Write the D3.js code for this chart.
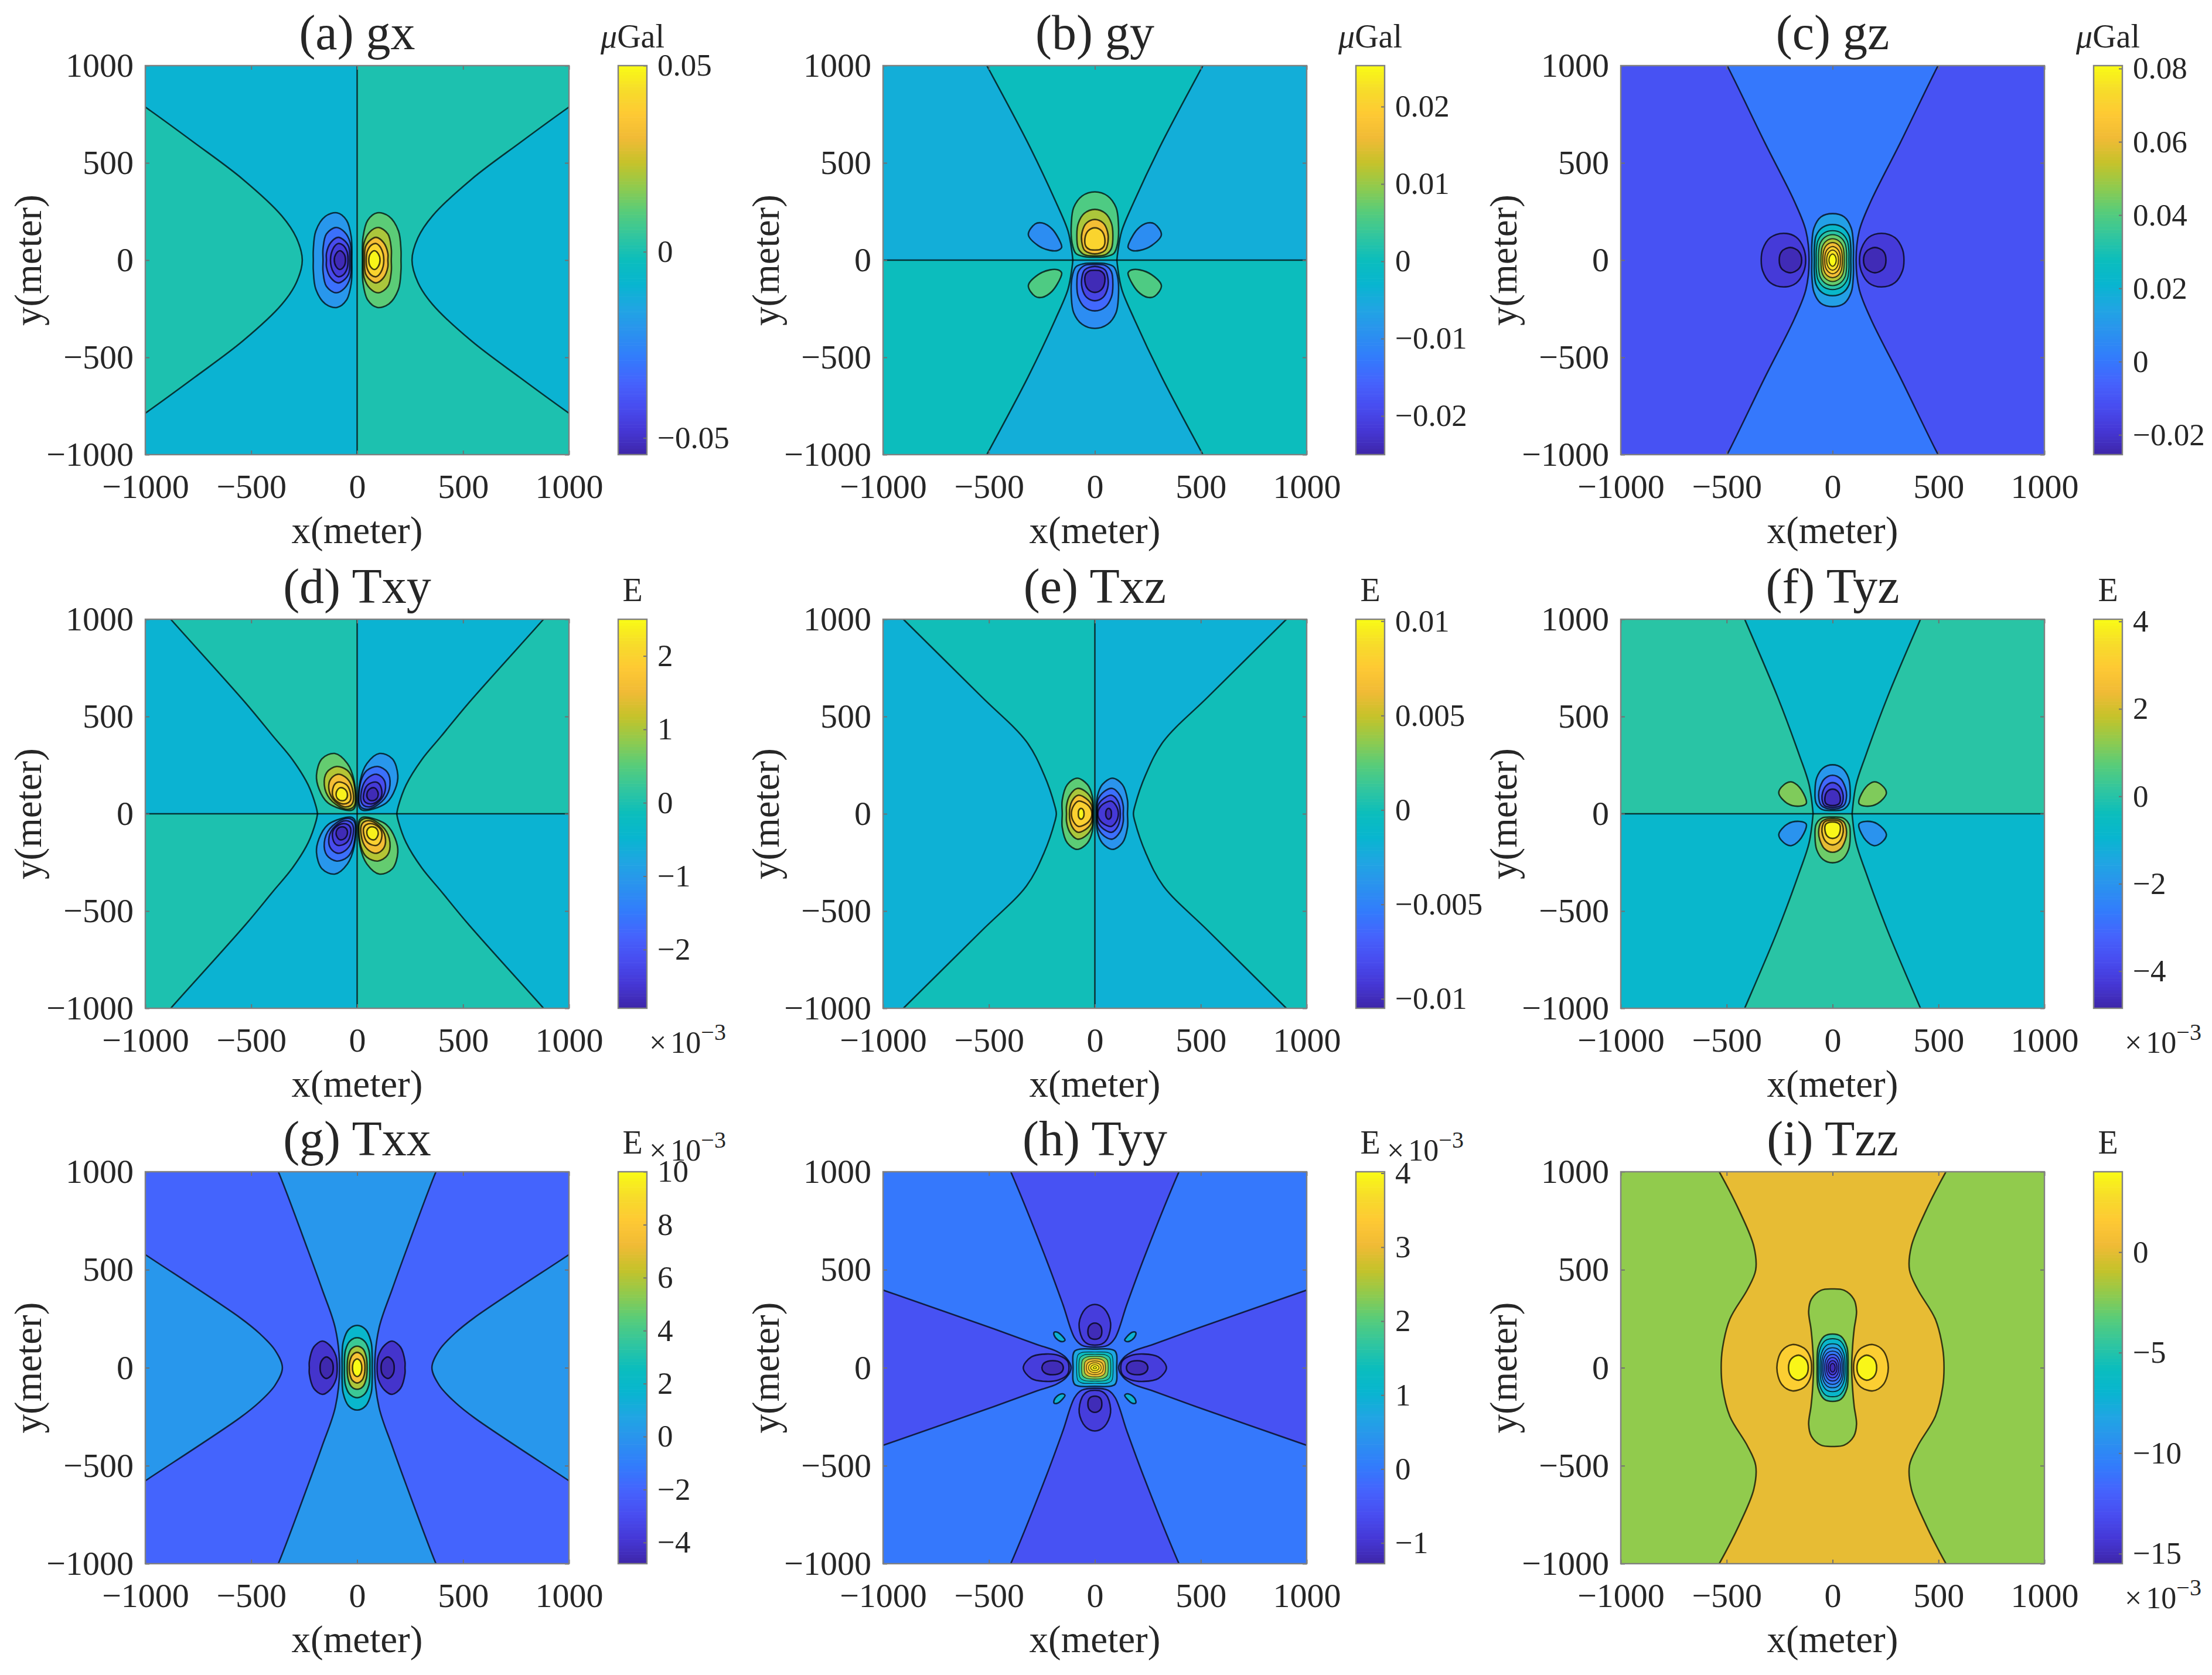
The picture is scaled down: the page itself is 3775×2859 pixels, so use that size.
<!DOCTYPE html>
<html lang="en">

<head>
    <meta charset="UTF-8">
    <title>Gravity field components</title>
    <script src="https://d3js.org/d3.v7.min.js"></script>
    <style>
        body { margin: 0; background: #fff; }
        text { font-family: "Liberation Serif", "Times New Roman", serif; fill: #262626; }
        .frame { fill: none; stroke: #808080; stroke-width: 2.4px; }
        .tick line { stroke: #707070; stroke-width: 2px; }
        .domain { display: none; }
    </style>
</head>

<body>
    <div id="container"></div>
    <script>
        /*------------------- chart values --------------------*/
        const titles = ["(a) gx", "(b) gy", "(c) gz", "(d) Txy", "(e) Txz", "(f) Tyz", "(g) Txx", "(h) Tyy", "(i) Tzz"];
        const units = ["Gal", "Gal", "Gal", "E", "E", "E", "E", "E", "E"];
        const axisTicks = [-1000, -500, 0, 500, 1000];

        // colour axis limits and tick marks of each panel
        const cbarDomains = [[-0.0545, 0.05], [-0.025, 0.0253], [-0.0254, 0.0808], [-2.8, 2.5], [-0.0105, 0.0101],
            [-4.85, 4.05], [-4.8, 10], [-1.28, 4.02], [-15.5, 4]];
        const cbarTicks = [[-0.05, 0, 0.05], [-0.02, -0.01, 0, 0.01, 0.02], [-0.02, 0, 0.02, 0.04, 0.06, 0.08],
            [-2, -1, 0, 1, 2], [-0.01, -0.005, 0, 0.005, 0.01], [-4, -2, 0, 2, 4],
            [-4, -2, 0, 2, 4, 6, 8, 10], [-1, 0, 1, 2, 3, 4], [-15, -10, -5, 0]];
        // where the x10^-3 note sits: none, under the bar, or above it
        const exponentPlace = ["", "", "", "below", "", "below", "above", "above", "below"];

        // matlab parula, every 4th row
        const parulaRows = [[0.2422, 0.1504, 0.6603], [0.2706, 0.2147, 0.8364], [0.2813, 0.3006, 0.9414], [0.2699, 0.3892, 0.9906],
            [0.1963, 0.4847, 0.9892], [0.1687, 0.5703, 0.9359], [0.1248, 0.6459, 0.8883], [0.0297, 0.7082, 0.8163],
            [0.0433, 0.7411, 0.7394], [0.1938, 0.7758, 0.6251], [0.3406, 0.8008, 0.4789], [0.5616, 0.7942, 0.3045],
            [0.7738, 0.7598, 0.1646], [0.9393, 0.7288, 0.21], [0.9952, 0.7893, 0.2028], [0.9676, 0.8639, 0.1643], [0.9769, 0.9839, 0.0805]];

        /*------------- contour outlines, in metres ------------*/
        // (a) gx
        const gxFar = [[-1100, 862], [-1000, 787], [-769, 604], [-540, 416], [-356, 228], [-287, 115], [-259, 0]];
        const gxLobes = [
            [[25, 0], [28, 120], [50, 205], [95, 243], [150, 225], [195, 150], [207, 50], [207, 0]],
            [[28, 0], [33, 90], [60, 145], [100, 168], [145, 135], [161, 60], [161, 0]],
            [[35, 0], [40, 70], [65, 105], [90, 117], [125, 90], [145, 35], [145, 0]],
            [[43, 0], [48, 45], [68, 78], [90, 85], [112, 62], [126, 0]],
            [[55, 0], [62, 32], [82, 48], [100, 32], [108, 0]]
        ];
        const gxLevels = { left: -0.0096, right: 0.0009, neg: [-0.02, -0.0315, -0.042, -0.0472, -0.0524], pos: [0.0113, 0.0207, 0.0322, 0.0406, 0.049] };

        // (b) gy
        const gyWedge = [[-560, 1100], [-510, 1000], [-316, 602], [-185, 301], [-127, 150], [-108, 40], [-104, 0]];
        const gyLobes = [
            [[0, 351], [60, 330], [100, 270], [111, 190], [108, 90], [90, 35], [50, 18], [0, 15]],
            [[0, 261], [50, 240], [78, 190], [85, 130], [78, 60], [50, 28], [0, 22]],
            [[0, 209], [40, 190], [60, 145], [62, 95], [48, 50], [0, 32]],
            [[0, 166], [32, 150], [47, 110], [42, 70], [25, 55], [0, 52]]
        ];
        const gySide = [[314, 131], [282, 186], [249, 191], [203, 161], [162, 90], [157, 65], [175, 50], [212, 50], [268, 75]];
        const gyLevels = { blue: -0.0044, teal: 0.0002, pos: [0.0057, 0.0112, 0.0167, 0.0208], neg: [-0.0099, -0.0149, -0.02, -0.024] };

        // (c) gz
        const gzNeck = [[-550, 1100], [-498, 1000], [-319, 602], [-180, 301], [-126, 151], [-111, 0]];
        const gzCentre = [
            [[0, 239], [55, 222], [88, 165], [98, 80], [98, 0]],
            [[0, 183], [48, 168], [78, 125], [86, 60], [86, 0]],
            [[0, 151], [42, 138], [69, 100], [77, 45], [77, 0]],
            [[0, 131], [36, 118], [59, 85], [66, 35], [66, 0]],
            [[0, 110], [30, 98], [49, 68], [55, 0]],
            [[0, 90], [25, 80], [41, 52], [46, 0]],
            [[0, 70], [20, 60], [33, 38], [37, 0]],
            [[0, 52], [15, 44], [25, 25], [28, 0]],
            [[0, 32], [9, 26], [15, 14], [17, 0]]
        ];
        const gzSides = [
            [[127, 0], [137, 62], [172, 118], [231, 138], [295, 115], [330, 55], [337, 0]],
            [[146, 0], [160, 45], [200, 65], [240, 45], [252, 0]]
        ];
        const gzLevels = { far: -0.0105, neck: 0, centre: [0.0128, 0.0235, 0.033, 0.0426, 0.0521, 0.0627, 0.0702, 0.0755, 0.0808], side: [-0.018, -0.0233] };

        // (d) Txy
        const txyCorner = [[-960, 1100], [-880, 1000], [-526, 569], [-397, 399], [-305, 278], [-231, 148], [-194, 37], [-187, 0]];
        const txyLobes = [
            [[9, 37], [14, 168], [46, 258], [106, 310], [166, 283], [192, 198], [180, 128], [139, 57], [55, 19], [23, 19]],
            [[11, 47], [18, 168], [46, 223], [97, 243], [143, 213], [155, 148], [129, 77], [65, 27], [28, 27]],
            [[18, 67], [28, 148], [55, 188], [92, 203], [125, 178], [134, 133], [115, 77], [65, 37], [32, 42]],
            [[30, 77], [42, 138], [69, 160], [97, 160], [115, 128], [111, 82], [74, 52], [42, 57]],
            [[46, 102], [60, 128], [83, 133], [99, 107], [92, 77], [69, 67], [51, 77]]
        ];
        const txyLevels = { blue: -0.52, teal: 0.01, neg: [-1.05, -1.63, -2.16, -2.43, -2.7], pos: [0.59, 1.07, 1.6, 1.97, 2.39] };

        // (e) Txz
        const txzFar = [[-1100, 1215], [-904, 1000], [-535, 602], [-323, 371], [-240, 201], [-189, 40], [-182, 0]];
        const txzLobes = [
            [[-8, 0], [-12, 90], [-35, 150], [-83, 183], [-130, 150], [-154, 70], [-154, 0]],
            [[-9, 0], [-14, 70], [-45, 115], [-83, 130], [-118, 95], [-134, 40], [-134, 0]],
            [[-11, 0], [-18, 50], [-50, 85], [-80, 95], [-108, 65], [-120, 0]],
            [[-14, 0], [-25, 35], [-55, 60], [-78, 65], [-100, 42], [-111, 0]],
            [[-51, 0], [-55, 20], [-65, 28], [-76, 18], [-78, 0]]
        ];
        const txzLevels = { blue: -0.0018, teal: 0, pos: [0.0025, 0.0043, 0.0068, 0.008, 0.0099], neg: [-0.0039, -0.006, -0.008, -0.0091, -0.0101] };

        // (f) Tyz
        const tyzWedge = [[-455, 1100], [-415, 1000], [-260, 602], [-157, 301], [-111, 150], [-92, 0]];
        const tyzLobes = [
            [[0, 252], [45, 235], [75, 185], [83, 120], [78, 55], [50, 22], [0, 17]],
            [[0, 198], [38, 180], [60, 135], [66, 95], [55, 45], [30, 28], [0, 25]],
            [[0, 160], [30, 145], [47, 110], [50, 75], [38, 42], [0, 33]],
            [[0, 127], [25, 115], [36, 85], [33, 55], [20, 45], [0, 42]]
        ];
        const tyzSide = [[254, 107], [231, 148], [196, 164], [157, 137], [125, 72], [125, 52], [157, 39], [212, 52]];
        const tyzLevels = { teal: 0.045, blue: -0.845, neg: [-1.91, -3.07, -3.96, -4.58], pos: [0.93, 2.27, 3.16, 3.96], sideUp: 1.11, sideDown: -2 };

        // (g) Txx
        const txxNeck = [[-415, 1100], [-372, 1000], [-233, 602], [-166, 402], [-103, 201], [-83, 0]];
        const txxFar = [[-1100, 650], [-1000, 577], [-554, 256], [-462, 176], [-388, 90], [-353, 0]];
        const txxCentre = [
            [[0, 216], [40, 195], [66, 130], [71, 60], [71, 0]],
            [[0, 153], [35, 135], [55, 90], [60, 40], [60, 0]],
            [[0, 110], [28, 95], [43, 55], [47, 0]],
            [[0, 78], [22, 65], [34, 35], [37, 0]],
            [[0, 45], [14, 35], [21, 15], [22, 0]]
        ];
        const txxSides = [
            [[94, 0], [100, 60], [130, 115], [165, 136], [205, 105], [226, 30], [226, 0]],
            [[113, 0], [120, 35], [145, 55], [168, 35], [175, 0]]
        ];
        const txxLevels = { far: -2, neck: 0.08, centre: [1.86, 3.78, 5.86, 7.78, 10], side: [-4.06, -4.65] };

        // (h) Tyy
        const tyyTop = [[-440, 1100], [-397, 1000], [-230, 554], [-151, 323], [-96, 153], [-62, 115], [0, 105]];
        const tyySide = [[1100, 435], [1000, 396], [476, 198], [273, 118], [181, 84], [135, 50], [112, 0]];
        const tyyCentre = [
            [[0, 95], [70, 95], [95, 85], [103, 65], [103, 0]],
            [[0, 80], [60, 78], [80, 65], [86, 0]],
            [[0, 68], [50, 65], [70, 50], [75, 0]],
            [[0, 58], [40, 54], [58, 40], [63, 0]],
            [[0, 47], [32, 42], [46, 30], [50, 0]],
            [[0, 35], [25, 30], [36, 20], [40, 0]],
            [[0, 25], [18, 21], [27, 12], [30, 0]],
            [[0, 15], [12, 12], [20, 0]],
            [[0, 6], [5, 4], [8, 0]]
        ];
        const tyyVertical = [
            [[0, 323], [45, 300], [74, 230], [60, 150], [35, 122], [0, 115]],
            [[0, 228], [25, 215], [33, 185], [25, 155], [0, 145]]
        ];
        const tyyHorizontal = [
            [[122, 0], [130, 35], [170, 62], [230, 70], [300, 55], [338, 0]],
            [[149, 0], [160, 25], [200, 36], [238, 25], [250, 0]]
        ];
        const tyyDiagonal = [[192, 181], [176, 181], [151, 158], [141, 141], [153, 133], [176, 143], [193, 168]];
        const tyyLevels = { back: -0.01, arm: -0.54, centre: [0.73, 1.26, 1.69, 2.32, 2.96, 3.38, 3.65, 3.86, 4.02], lobe: [-0.86, -1.17], diagonal: 0.95 };

        // (i) Tzz
        const tzzNeck = [[-590, 1100], [-535, 1000], [-440, 800], [-372, 620], [-363, 499], [-402, 399], [-485, 248], [-520, 97], [-526, 0]];
        const tzzCentre = [
            [[0, 402], [55, 395], [100, 350], [113, 288], [102, 198], [95, 117], [90, 0]],
            [[0, 172], [40, 160], [68, 105], [73, 40], [73, 0]],
            [[0, 148], [35, 138], [61, 90], [67, 0]],
            [[0, 122], [30, 113], [53, 72], [59, 0]],
            [[0, 102], [26, 94], [46, 60], [52, 0]],
            [[0, 85], [22, 78], [40, 50], [45, 0]],
            [[0, 68], [18, 62], [32, 40], [37, 0]],
            [[0, 52], [14, 47], [25, 30], [29, 0]],
            [[0, 36], [10, 32], [18, 20], [21, 0]],
            [[0, 22], [6, 19], [10, 12], [12, 0]]
        ];
        const tzzSides = [
            [[99, 0], [108, 60], [135, 100], [190, 118], [240, 85], [263, 0]],
            [[115, 0], [125, 40], [160, 64], [195, 45], [208, 0]]
        ];
        const tzzLevels = { far: -2.05, neck: 0.1, centre: [-2.05, -4.77, -6.73, -8.29, -9.65, -10.82, -11.99, -13.16, -14.14, -15.11], side: [1.86, 3.8] };

        /*------------------- outline helpers ------------------*/
        const flipX = pts => pts.map(p => p && [-p[0], p[1]]);
        const flipY = pts => pts.map(p => p && [p[0], -p[1]]);
        // half outline that starts and ends on an axis -> whole outline
        const closeY = h => h.concat(flipY(h.slice(1, -1)).reverse());
        const closeX = h => h.concat(flipX(h.slice(1, -1)).reverse());
        // quarter outline (0,y) ... (x,0) -> whole outline
        const oval = q => closeX(q.concat(flipY(q.slice(0, -1)).reverse()));
        // far curve that runs off the plot: mirrored, closes outside the clip
        const openY = h => h.concat(flipY(h.slice(0, -1)).reverse());
        const openX = h => h.concat(flipX(h.slice(0, -1)).reverse());
        const wedge = h => h.concat([null], flipX(h).reverse());
        const neck = h => { const left = openY(h); return left.concat([null], flipX(left).reverse()); };
        // null = sharp corner; corners are filled across but get no contour line
        const box = (x0, y0, x1, y1) => [[x0, y0], null, [x1, y0], null, [x1, y1], null, [x0, y1]];
        const shut = (v, pts, width) => ({ v, pts, closed: true, width });
        const open = (v, pts) => ({ v, pts, closed: false });
        const rule = pts => ({ v: null, pts, closed: false });

        const B = 1100; // past the axes, gets clipped
        const leftBox = box(-B, -B, 0, B), rightBox = box(0, -B, B, B), upBox = box(-B, 0, B, B), downBox = box(-B, -B, B, 0);
        const allBox = box(-B, -B, B, B);
        const ruleX = rule([[0, -B], [0, B]]), ruleY = rule([[-B, 0], [B, 0]]);
        const txyFill = txyCorner.concat([null, [-B, 0], null, [-B, B]]);

        /*--------------- regions of each panel ----------------*/
        const regions = [
            [
                open(gxLevels.left, leftBox), open(gxLevels.right, rightBox), ruleX,
                open(gxLevels.right, openY(gxFar)), open(gxLevels.left, flipX(openY(gxFar))),
                ...gxLobes.map((h, i) => shut(gxLevels.pos[i], closeY(h))),
                ...gxLobes.map((h, i) => shut(gxLevels.neg[i], flipX(closeY(h))))
            ],
            [
                open(gyLevels.blue, upBox), open(gyLevels.teal, downBox), ruleY,
                open(gyLevels.teal, wedge(gyWedge)), open(gyLevels.blue, flipY(wedge(gyWedge))),
                ...gyLobes.map((h, i) => shut(gyLevels.pos[i], closeX(h))),
                ...gyLobes.map((h, i) => shut(gyLevels.neg[i], flipY(closeX(h)))),
                shut(gyLevels.neg[0], gySide), shut(gyLevels.neg[0], flipX(gySide)),
                shut(gyLevels.pos[0], flipY(gySide)), shut(gyLevels.pos[0], flipX(flipY(gySide)))
            ],
            [
                open(gzLevels.far, allBox), open(gzLevels.neck, neck(gzNeck)),
                ...gzCentre.map((q, i) => shut(gzLevels.centre[i], oval(q), i > 1 ? 2 : undefined)),
                ...gzSides.map((h, i) => shut(gzLevels.side[i], closeY(h))),
                ...gzSides.map((h, i) => shut(gzLevels.side[i], flipX(closeY(h))))
            ],
            [
                open(txyLevels.teal, box(-B, 0, 0, B)), open(txyLevels.blue, box(0, 0, B, B)),
                open(txyLevels.blue, box(-B, -B, 0, 0)), open(txyLevels.teal, box(0, -B, B, 0)), ruleX, ruleY,
                open(txyLevels.blue, txyFill), open(txyLevels.teal, flipX(txyFill)),
                open(txyLevels.teal, flipY(txyFill)), open(txyLevels.blue, flipX(flipY(txyFill))),
                ...txyLobes.map((p, i) => shut(txyLevels.neg[i], p)),
                ...txyLobes.map((p, i) => shut(txyLevels.pos[i], flipX(p))),
                ...txyLobes.map((p, i) => shut(txyLevels.pos[i], flipY(p))),
                ...txyLobes.map((p, i) => shut(txyLevels.neg[i], flipX(flipY(p))))
            ],
            [
                open(txzLevels.teal, leftBox), open(txzLevels.blue, rightBox), ruleX,
                open(txzLevels.blue, openY(txzFar)), open(txzLevels.teal, flipX(openY(txzFar))),
                ...txzLobes.map((h, i) => shut(txzLevels.pos[i], closeY(h))),
                ...txzLobes.map((h, i) => shut(txzLevels.neg[i], flipX(closeY(h))))
            ],
            [
                open(tyzLevels.teal, upBox), open(tyzLevels.blue, downBox), ruleY,
                open(tyzLevels.blue, wedge(tyzWedge)), open(tyzLevels.teal, flipY(wedge(tyzWedge))),
                ...tyzLobes.map((h, i) => shut(tyzLevels.neg[i], closeX(h))),
                ...tyzLobes.map((h, i) => shut(tyzLevels.pos[i], flipY(closeX(h)))),
                shut(tyzLevels.sideUp, tyzSide), shut(tyzLevels.sideUp, flipX(tyzSide)),
                shut(tyzLevels.sideDown, flipY(tyzSide)), shut(tyzLevels.sideDown, flipX(flipY(tyzSide)))
            ],
            [
                open(txxLevels.far, allBox), open(txxLevels.neck, neck(txxNeck)),
                open(txxLevels.neck, openY(txxFar)), open(txxLevels.neck, flipX(openY(txxFar))),
                ...txxCentre.map((q, i) => shut(txxLevels.centre[i], oval(q))),
                ...txxSides.map((h, i) => shut(txxLevels.side[i], closeY(h))),
                ...txxSides.map((h, i) => shut(txxLevels.side[i], flipX(closeY(h))))
            ],
            [
                open(tyyLevels.back, allBox),
                open(tyyLevels.arm, openX(tyyTop)), open(tyyLevels.arm, flipY(openX(tyyTop))),
                open(tyyLevels.arm, openY(tyySide)), open(tyyLevels.arm, flipX(openY(tyySide))),
                ...tyyCentre.map((q, i) => shut(tyyLevels.centre[i], oval(q), i > 0 ? 1.2 : undefined)),
                ...tyyVertical.map((h, i) => shut(tyyLevels.lobe[i], closeX(h))),
                ...tyyVertical.map((h, i) => shut(tyyLevels.lobe[i], flipY(closeX(h)))),
                ...tyyHorizontal.map((h, i) => shut(tyyLevels.lobe[i], closeY(h))),
                ...tyyHorizontal.map((h, i) => shut(tyyLevels.lobe[i], flipX(closeY(h)))),
                shut(tyyLevels.diagonal, tyyDiagonal), shut(tyyLevels.diagonal, flipX(tyyDiagonal)),
                shut(tyyLevels.diagonal, flipY(tyyDiagonal)), shut(tyyLevels.diagonal, flipX(flipY(tyyDiagonal)))
            ],
            [
                open(tzzLevels.far, allBox), open(tzzLevels.neck, neck(tzzNeck)),
                ...tzzCentre.map((q, i) => shut(tzzLevels.centre[i], oval(q), i > 1 ? 1.8 : undefined)),
                ...tzzSides.map((h, i) => shut(tzzLevels.side[i], closeY(h))),
                ...tzzSides.map((h, i) => shut(tzzLevels.side[i], flipX(closeY(h))))
            ]
        ];

        /*------------------- layout ---------------------------*/
        const colLeft = [248, 1507, 2766], rowTop = [112, 1057, 2000], rowHeight = [664, 664, 669];
        const plotW = 723, barGap = 84, barW = 49;

        const parula = d3.scaleLinear()
            .domain(parulaRows.map((d, i) => i / (parulaRows.length - 1)))
            .range(parulaRows.map(d => `rgb(${d.map(c => Math.round(c * 255)).join(",")})`))
            .clamp(true);

        const minus = v => String(v).replace("-", "\u2212");

        const svg = d3.select("#container").append("svg")
            .attr("width", 3775).attr("height", 2859)
            .style("display", "block");

        const curveOpen = d3.line().defined(d => d).curve(d3.curveCatmullRom.alpha(0.5));
        const curveShut = d3.line().curve(d3.curveCatmullRomClosed.alpha(0.5));

        titles.forEach((title, k) => {
            const row = Math.floor(k / 3);
            const left = colLeft[k % 3], top = rowTop[row], plotH = rowHeight[row];
            const g = svg.append("g").attr("transform", `translate(${left},${top})`);

            const x = d3.scaleLinear().domain([-1000, 1000]).range([0, plotW]);
            const y = d3.scaleLinear().domain([-1000, 1000]).range([plotH, 0]);
            const tone = d3.scaleLinear().domain(cbarDomains[k]).range([0, 1]);
            const toXY = pts => pts.map(p => p && [x(p[0]), y(p[1])]);

            // curve runs of one point come back as "M..Z"
            const linePath = r => r.closed ? curveShut(toXY(r.pts)) : curveOpen(toXY(r.pts)).replace(/Z/g, "");
            const fillPath = r => r.closed ? linePath(r) : linePath(r).replace(/M/g, "L").replace("L", "M") + "Z";

            g.append("clipPath").attr("id", "clip" + k).append("rect").attr("width", plotW).attr("height", plotH);
            const plot = g.append("g").attr("clip-path", `url(#clip${k})`);

            // fills first, then every contour line on top
            plot.selectAll("path.fill").data(regions[k].filter(r => r.v !== null)).enter().append("path")
                .attr("class", "fill")
                .attr("d", fillPath)
                .attr("fill", r => parula(tone(r.v)));
            plot.selectAll("path.line").data(regions[k]).enter().append("path")
                .attr("class", "line")
                .attr("d", linePath)
                .attr("fill", "none")
                .attr("stroke", "#000")
                .attr("stroke-opacity", 0.72)
                .attr("stroke-width", r => r.width || 2.6);

            // axes, matlab box with inward ticks
            const bottom = g.append("g").attr("transform", `translate(0,${plotH})`)
                .call(d3.axisBottom(x).tickValues(axisTicks).tickSize(-7).tickPadding(33).tickFormat(minus));
            bottom.selectAll("text").attr("font-size", 58);
            const leftAxis = g.append("g")
                .call(d3.axisLeft(y).tickValues(axisTicks).tickSize(-7).tickPadding(20).tickFormat(minus));
            leftAxis.selectAll("text").attr("font-size", 58);
            g.append("g").call(d3.axisTop(x).tickValues(axisTicks).tickSize(-7).tickFormat(""));
            g.append("g").attr("transform", `translate(${plotW},0)`)
                .call(d3.axisRight(y).tickValues(axisTicks).tickSize(-7).tickFormat(""));
            g.append("rect").attr("class", "frame").attr("width", plotW).attr("height", plotH);

            g.append("text").text(title)
                .attr("x", plotW / 2).attr("y", -28)
                .attr("text-anchor", "middle").attr("font-size", 84);
            g.append("text").text("x(meter)")
                .attr("x", plotW / 2).attr("y", plotH + 151)
                .attr("text-anchor", "middle").attr("font-size", 65);
            g.append("text").text("y(meter)")
                .attr("transform", `translate(-178,${plotH / 2}) rotate(-90)`)
                .attr("text-anchor", "middle").attr("font-size", 65);

            // colour bar
            const bar = g.append("g").attr("transform", `translate(${plotW + barGap},0)`);
            const barY = d3.scaleLinear().domain(cbarDomains[k]).range([plotH, 0]);
            const steps = d3.range(128);
            bar.selectAll("rect.step").data(steps).enter().append("rect")
                .attr("class", "step")
                .attr("y", d => plotH * (1 - (d + 1) / 128))
                .attr("width", barW)
                .attr("height", plotH / 128 + 0.6)
                .attr("fill", d => parula((d + 0.5) / 128));
            const barAxis = bar.append("g").attr("transform", `translate(${barW},0)`)
                .call(d3.axisRight(barY).tickValues(cbarTicks[k]).tickSize(-6).tickPadding(18).tickFormat(minus));
            barAxis.selectAll("text").attr("font-size", 53);
            bar.append("rect").attr("class", "frame").attr("width", barW).attr("height", plotH);

            const unit = bar.append("text")
                .attr("x", barW / 2).attr("y", -31)
                .attr("text-anchor", "middle").attr("font-size", 56);
            if (units[k] === "Gal") unit.append("tspan").attr("font-style", "italic").text("\u03bc");
            unit.append("tspan").text(units[k]);

            if (exponentPlace[k]) {
                const note = bar.append("text")
                    .attr("x", barW + 4)
                    .attr("y", exponentPlace[k] === "below" ? plotH + 76 : -19)
                    .attr("font-size", 52);
                note.append("tspan").text("\u00d7");
                note.append("tspan").attr("dx", 7).text("10");
                note.append("tspan").attr("dy", -22).attr("font-size", 40).text("\u22123");
            }
        });
    </script>
</body>

</html>
